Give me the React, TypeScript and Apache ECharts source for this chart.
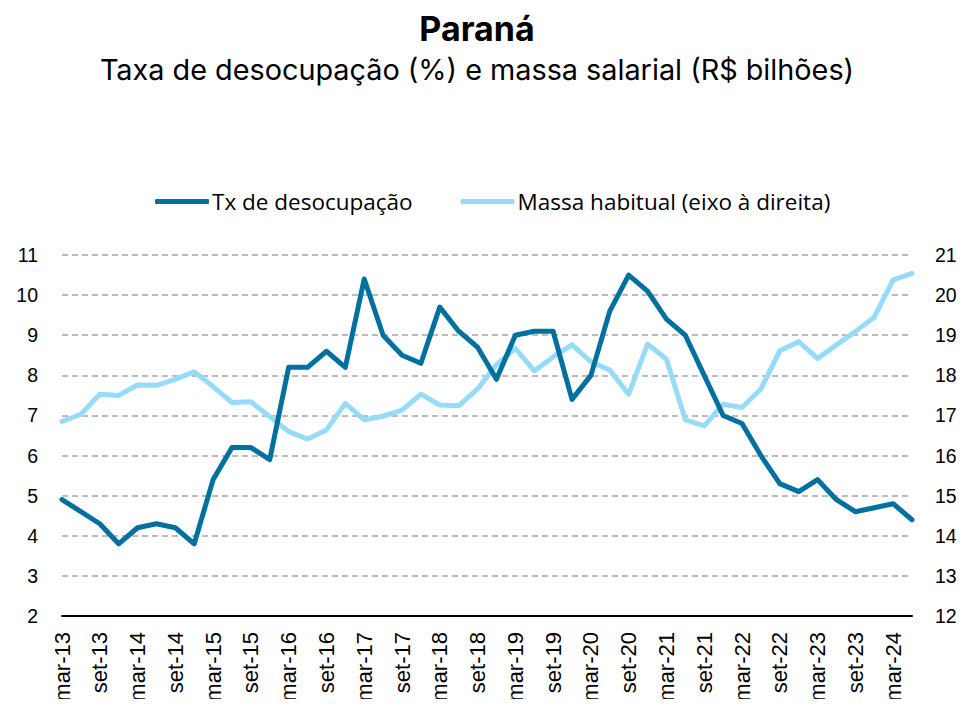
import React, { useEffect, useRef } from "react";
import * as echarts from "echarts";

const months = ["mar", "jun", "set", "dez"];
const years = ["13", "14", "15", "16", "17", "18", "19", "20", "21", "22", "23", "24"];
const categories: string[] = [];
years.forEach((y) => months.forEach((m) => categories.push(`${m}-${y}`)));
categories.length = 46; // mar-13 .. jun-24

const desocupacao = [
  4.9, 4.6, 4.3, 3.8, 4.2, 4.3, 4.2, 3.8, 5.4, 6.2, 6.2, 5.9,
  8.2, 8.2, 8.6, 8.2, 10.4, 9.0, 8.5, 8.3, 9.7, 9.1, 8.7, 7.9,
  9.0, 9.1, 9.1, 7.4, 8.0, 9.6, 10.5, 10.1, 9.4, 9.0, 8.0, 7.0,
  6.8, 6.0, 5.3, 5.1, 5.4, 4.9, 4.6, 4.7, 4.8, 4.4,
];

const massaHabitual = [
  16.85, 17.03, 17.53, 17.5, 17.76, 17.75, 17.9, 18.09, 17.72, 17.32, 17.34, 16.97,
  16.6, 16.41, 16.64, 17.3, 16.89, 16.98, 17.13, 17.53, 17.26, 17.24, 17.66, 18.26,
  18.67, 18.11, 18.46, 18.76, 18.34, 18.13, 17.53, 18.78, 18.4, 16.89, 16.74, 17.28,
  17.2, 17.66, 18.61, 18.84, 18.42, 18.76, 19.09, 19.45, 20.38, 20.54,
];

const DARK = "#0070A0";
const LIGHT = "#97DBFA";
const FONT = "Inter, 'Noto Sans', sans-serif";
const AXFONT = "'Liberation Sans', Arial, sans-serif";

export default function App() {
  const ref = useRef<HTMLDivElement>(null);
  useEffect(() => {
    if (!ref.current) return;
    const chart = echarts.init(ref.current, undefined, { renderer: "svg" });
    chart.setOption({
      animation: false,
      backgroundColor: "#ffffff",
      title: [
        {
          text: "Paraná",
          left: 472,
          textAlign: "center",
          top: 6,
          textStyle: { fontFamily: FONT, fontSize: 34, fontWeight: "bold", color: "#000" },
        },
        {
          text: "Taxa de desocupação (%) e massa salarial (R$ bilhões)",
          left: 472,
          textAlign: "center",
          top: 50,
          textStyle: { fontFamily: FONT, fontSize: 28.8, fontWeight: "normal", color: "#000" },
        },
      ],
      legend: {
        top: 190,
        left: 155,
        padding: 0,
        itemWidth: 54,
        itemHeight: 5,
        itemGap: 48,
        icon: "roundRect",
        textStyle: { fontFamily: "'Open Sans', sans-serif", fontSize: 22.5, color: "#000", padding: [0, 0, 0, -2] },
        data: ["Tx de desocupação", "Massa habitual (eixo à direita)"],
      },
      grid: { left: 62, right: 54, top: 255, bottom: 91, containLabel: false },
      xAxis: {
        type: "category",
        data: categories,
        boundaryGap: false,
        axisLine: { lineStyle: { color: "#000", width: 2 } },
        axisTick: { show: false },
        axisLabel: {
          interval: 1,
          rotate: 90,
          margin: 16,
          fontFamily: AXFONT,
          fontSize: 22,
          color: "#000",
        },
      },
      yAxis: [
        {
          type: "value",
          min: 2,
          max: 11,
          interval: 1,
          axisLine: { show: false },
          axisTick: { show: false },
          axisLabel: { margin: 24, fontFamily: AXFONT, fontSize: 19.5, color: "#000" },
          splitLine: { lineStyle: { color: "#A6A6A6", type: [6, 4], width: 1.5 } },
        },
        {
          type: "value",
          min: 12,
          max: 21,
          interval: 1,
          position: "right",
          axisLine: { show: false },
          axisTick: { show: false },
          axisLabel: { margin: 23, fontFamily: AXFONT, fontSize: 19.5, color: "#000" },
          splitLine: { show: false },
        },
      ],
      series: [
        {
          name: "Tx de desocupação",
          type: "line",
          data: desocupacao,
          yAxisIndex: 0,
          symbol: "none",
          lineStyle: { color: DARK, width: 5, join: "round", cap: "round" },
          itemStyle: { color: DARK },
          z: 3,
        },
        {
          name: "Massa habitual (eixo à direita)",
          type: "line",
          data: massaHabitual,
          yAxisIndex: 1,
          symbol: "none",
          lineStyle: { color: LIGHT, width: 5, join: "round", cap: "round" },
          itemStyle: { color: LIGHT },
          z: 2,
        },
      ],
    });
    return () => chart.dispose();
  }, []);
  return <div ref={ref} style={{ width: 966, height: 707, margin: -8 }} />;
}
